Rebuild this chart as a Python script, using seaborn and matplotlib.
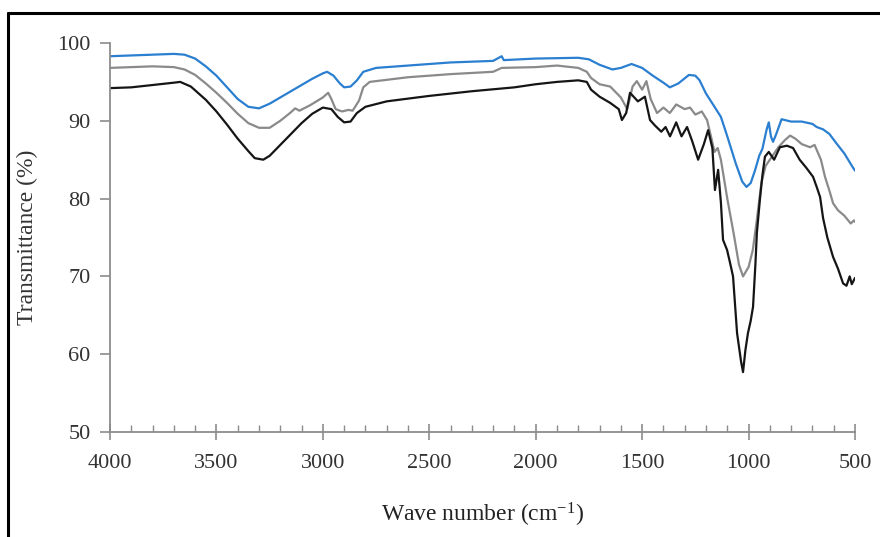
import numpy as np
import pandas as pd
import matplotlib
matplotlib.use("Agg")
import matplotlib.pyplot as plt
from matplotlib.lines import Line2D
from matplotlib.ticker import MultipleLocator
import seaborn as sns

# ---- data ----
blue_x = [4000, 3900, 3800, 3700, 3650, 3600, 3550, 3500, 3450, 3400, 3350, 3300, 3250, 3200,
          3150, 3100, 3050, 3000, 2980, 2950, 2920, 2900, 2870, 2840, 2810, 2750, 2600, 2400,
          2200, 2160, 2150, 2000, 1800, 1750, 1700, 1640, 1600, 1550, 1500, 1450, 1400, 1370,
          1330, 1280, 1250, 1230, 1200, 1160, 1130, 1100, 1060, 1030, 1010, 990, 970, 950, 935,
          915, 905, 895, 885, 870, 845, 800, 750, 700, 680, 650, 620, 590, 550, 510, 500]
blue_y = [98.3, 98.4, 98.5, 98.6, 98.5, 98.0, 97.0, 95.8, 94.3, 92.8, 91.8, 91.6, 92.2, 93.0,
          93.8, 94.6, 95.4, 96.1, 96.3, 95.8, 94.8, 94.3, 94.4, 95.2, 96.3, 96.8, 97.1, 97.5,
          97.7, 98.3, 97.8, 98.0, 98.1, 97.9, 97.2, 96.6, 96.8, 97.3, 96.8, 95.8, 94.9, 94.3,
          94.8, 95.9, 95.8, 95.2, 93.5, 91.8, 90.5, 88.0, 84.5, 82.2, 81.5, 82.0, 83.6, 85.5, 86.4,
          88.9, 89.8, 88.0, 87.3, 88.3, 90.2, 89.9, 89.9, 89.6, 89.2, 88.9, 88.3, 87.2, 85.8, 84.0, 83.6]

gray_x = [4000, 3900, 3800, 3700, 3650, 3600, 3550, 3500, 3450, 3400, 3350, 3300, 3250, 3200,
          3150, 3130, 3110, 3060, 3000, 2975, 2960, 2940, 2910, 2880, 2860, 2830, 2810, 2780,
          2600, 2400, 2200, 2160, 2000, 1900, 1800, 1760, 1740, 1700, 1650, 1600, 1570, 1545,
          1525, 1500, 1480, 1460, 1430, 1400, 1370, 1340, 1300, 1275, 1250, 1220, 1195, 1175,
          1160, 1145, 1130, 1100, 1070, 1045, 1026, 1000, 980, 960, 940, 920, 890, 860, 830, 805,
          780, 750, 711, 690, 660, 641, 620, 603, 580, 550, 520, 505, 500]
gray_y = [96.8, 96.9, 97.0, 96.9, 96.6, 95.9, 94.8, 93.6, 92.3, 90.9, 89.7, 89.1, 89.1, 90.0,
          91.1, 91.6, 91.3, 92.0, 93.0, 93.6, 92.8, 91.5, 91.2, 91.4, 91.3, 92.6, 94.3, 95.0,
          95.6, 96.0, 96.3, 96.8, 96.9, 97.1, 96.8, 96.3, 95.5, 94.7, 94.4, 93.0, 91.5, 94.4,
          95.1, 94.0, 95.1, 92.8, 91.0, 91.7, 91.0, 92.1, 91.5, 91.7, 90.8, 91.2, 90.1, 87.8,
          86.0, 86.5, 85.0, 80.0, 75.5, 71.5, 70.0, 71.2, 73.4, 77.5, 82.0, 84.2, 85.4, 86.6, 87.5, 88.1,
          87.7, 87.0, 86.6, 86.9, 85.0, 82.8, 81.0, 79.4, 78.5, 77.8, 76.8, 77.2, 77.0]

black_x = [4000, 3900, 3800, 3700, 3670, 3620, 3550, 3500, 3450, 3400, 3350, 3320, 3280, 3250,
           3200, 3150, 3100, 3050, 3000, 2960, 2930, 2900, 2870, 2840, 2800, 2700, 2500, 2300,
           2100, 2000, 1900, 1800, 1760, 1740, 1700, 1650, 1610, 1595, 1575, 1557, 1520, 1487,
           1463, 1440, 1410, 1390, 1369, 1340, 1315, 1289, 1265, 1237, 1210, 1190, 1170, 1158,
           1143, 1130, 1120, 1101, 1085, 1073, 1054, 1035, 1026, 1015, 1003, 990, 979, 968, 961,
           947, 935, 923, 905, 880, 853, 820, 791, 760, 730, 697, 680, 664, 650, 630, 603, 580,
           556, 540, 525, 515, 500]
black_y = [94.2, 94.3, 94.6, 94.9, 95.0, 94.4, 92.7, 91.2, 89.5, 87.7, 86.1, 85.2, 85.0, 85.5,
           86.9, 88.3, 89.7, 90.9, 91.7, 91.5, 90.5, 89.8, 89.9, 91.0, 91.8, 92.5, 93.2, 93.8,
           94.3, 94.7, 95.0, 95.2, 95.0, 94.0, 93.1, 92.3, 91.5, 90.1, 91.0, 93.6, 92.5, 93.1,
           90.1, 89.4, 88.6, 89.2, 88.0, 89.8, 88.0, 89.2, 87.4, 85.0, 87.0, 88.8, 86.5, 81.1,
           83.7, 79.5, 74.7, 73.4, 71.5, 70.0, 62.7, 59.0, 57.7, 60.5, 62.7, 64.3, 66.1, 71.5, 75.6,
           79.8, 83.0, 85.4, 86.0, 85.0, 86.6, 86.8, 86.5, 85.0, 84.0, 82.8, 81.5, 80.2, 77.5, 75.0, 72.5, 71.0,
           69.1, 68.8, 70.0, 69.0, 69.8]

series_names = ["blue", "gray", "black"]
series_colors = {"blue": "#2a7fd0", "gray": "#8a8a8a", "black": "#151515"}

x_ticks = [4000, 3500, 3000, 2500, 2000, 1500, 1000, 500]
y_ticks = [50, 60, 70, 80, 90, 100]

frames = []
for name, xs, ys in [("blue", blue_x, blue_y), ("gray", gray_x, gray_y), ("black", black_x, black_y)]:
    frames.append(pd.DataFrame({"wn": xs, "T": ys, "series": name}))
df = pd.concat(frames, ignore_index=True)

# ---- style ----
sns.set_style("white")
plt.rcParams["font.family"] = ["Liberation Serif", "DejaVu Serif"]
plt.rcParams["mathtext.fontset"] = "custom"
plt.rcParams["mathtext.rm"] = "Liberation Serif"
plt.rcParams["mathtext.default"] = "regular"

fig = plt.figure(figsize=(8.8, 5.37), dpi=100)
ax = fig.add_axes([110 / 880, 1 - 432 / 537, (855 - 110) / 880, (432 - 43) / 537])

sns.lineplot(data=df, x="wn", y="T", hue="series", hue_order=series_names,
             palette=series_colors, estimator=None, sort=False, linewidth=1.6,
             legend=False, ax=ax)

ax.set_xlim(4000, 500)
ax.set_ylim(50, 100)
ax.set_xticks(x_ticks)
ax.set_yticks(y_ticks)
ax.xaxis.set_minor_locator(MultipleLocator(100))

for s in ["top", "right"]:
    ax.spines[s].set_visible(False)
for s in ["left", "bottom"]:
    ax.spines[s].set_color("#8c8c8c")
    ax.spines[s].set_linewidth(1.3)

tick_color = "#8c8c8c"
ax.tick_params(axis="x", which="both", bottom=True, top=False)
ax.tick_params(axis="y", which="both", left=True, right=False)
ax.tick_params(axis="x", which="major", direction="inout", length=12, width=1.2,
               color=tick_color, labelsize=16, labelcolor="#333333", pad=10)
ax.tick_params(axis="x", which="minor", direction="in", length=5, width=1.0, color=tick_color)
ax.tick_params(axis="y", which="major", direction="out", length=7, width=1.2,
               color=tick_color, labelsize=16, labelcolor="#333333", pad=7)

ax.set_xlabel("Wave number (cm$^{-1}$)", fontsize=17, color="#222222", labelpad=20)
ax.set_ylabel("Transmittance (%)", fontsize=17, color="#333333", labelpad=14)
ax.grid(False)

# outer frame (top and left borders visible in the reference)
fig.add_artist(Line2D([8 / 880, 8 / 880], [0, 1 - 13 / 537], transform=fig.transFigure,
                      color="black", linewidth=2.2))
fig.add_artist(Line2D([8 / 880, 1], [1 - 13 / 537, 1 - 13 / 537], transform=fig.transFigure,
                      color="black", linewidth=2.2))

fig.savefig("out.png", dpi=100)
